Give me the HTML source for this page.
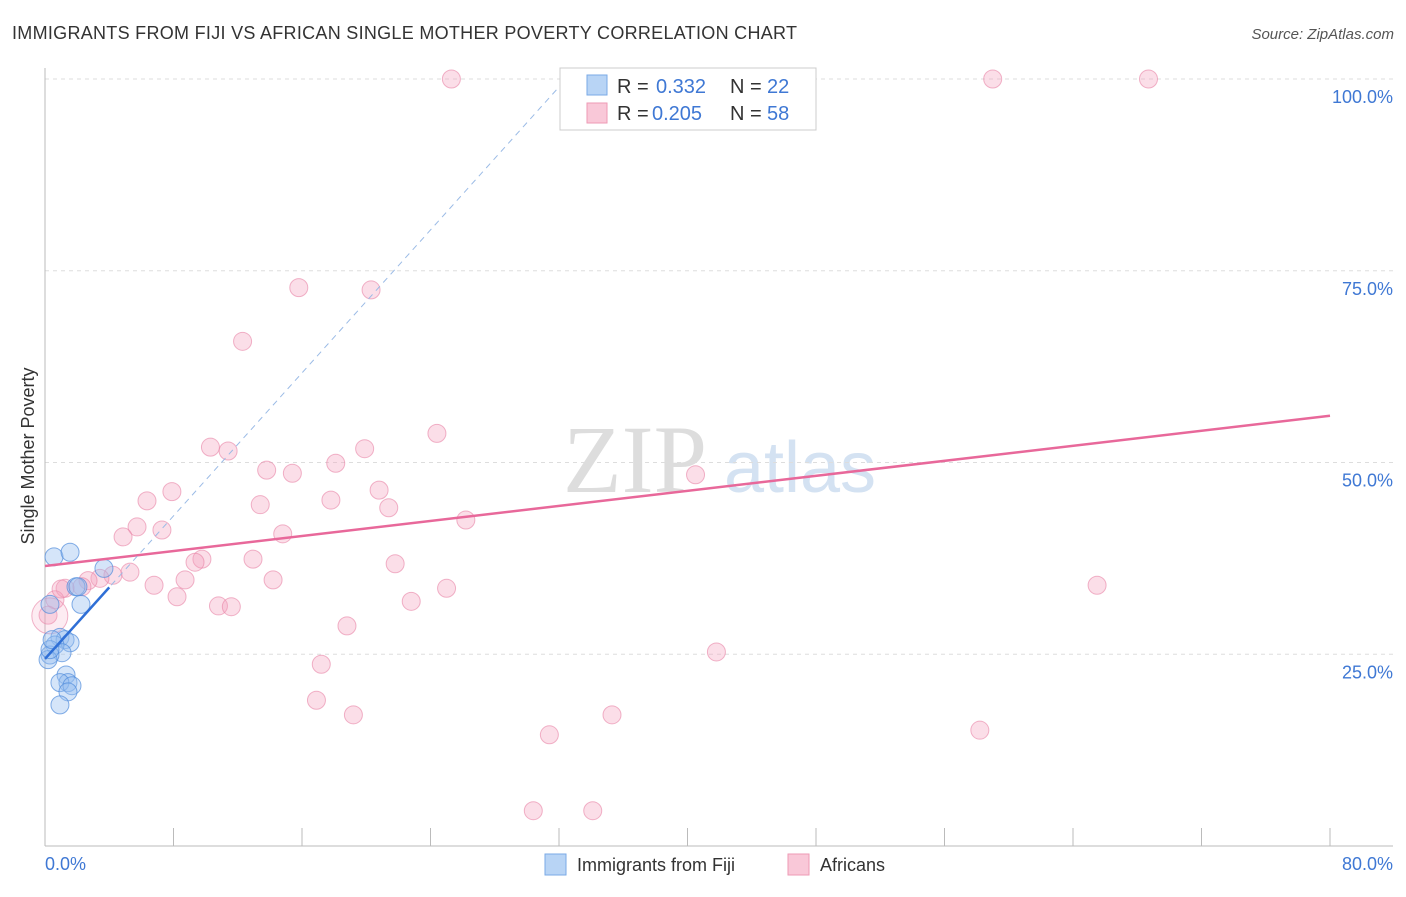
<!DOCTYPE html>
<html><head><meta charset="utf-8"><style>
body{margin:0;background:#fff;font-family:"Liberation Sans",sans-serif}
</style></head><body>
<svg width="1406" height="892" xmlns="http://www.w3.org/2000/svg" id="chart">
<text x="12" y="39" font-size="18" fill="#333" textLength="785">IMMIGRANTS FROM FIJI VS AFRICAN SINGLE MOTHER POVERTY CORRELATION CHART</text>
<text x="1394" y="39" font-size="15" fill="#555" font-style="italic" text-anchor="end">Source: ZipAtlas.com</text>
<text x="635" y="492" font-size="96" fill="#ddd" font-family="Liberation Serif" text-anchor="middle">ZIP</text>
<text x="800" y="492" font-size="72" fill="#d4e2f2" text-anchor="middle">atlas</text>
<text transform="translate(34,456) rotate(-90)" font-size="18" fill="#333" text-anchor="middle">Single Mother Poverty</text>
<g id="grid"></g><g id="marks"></g>
<g>
<rect x="560" y="68" width="256" height="62" fill="#fff" stroke="#ccc"/>
<rect x="587" y="75" width="20" height="20" fill="#b8d4f5" stroke="#7aaae6"/>
<rect x="587" y="103" width="20" height="20" fill="#f9c8d8" stroke="#ee9ab5"/>
<text x="617" y="93" font-size="20" fill="#333">R =</text><text x="656" y="93" font-size="20" fill="#3f78d4">0.332</text>
<text x="730" y="93" font-size="20" fill="#333">N =</text><text x="767" y="93" font-size="20" fill="#3f78d4">22</text>
<text x="617" y="120" font-size="20" fill="#333">R =</text><text x="652" y="120" font-size="20" fill="#3f78d4">0.205</text>
<text x="730" y="120" font-size="20" fill="#333">N =</text><text x="767" y="120" font-size="20" fill="#3f78d4">58</text>
</g>
<g>
<rect x="545" y="854" width="21" height="21" fill="#b8d4f5" stroke="#7aaae6"/>
<text x="577" y="871" font-size="18" fill="#333">Immigrants from Fiji</text>
<rect x="788" y="854" width="21" height="21" fill="#f9c8d8" stroke="#ee9ab5"/>
<text x="820" y="871" font-size="18" fill="#333">Africans</text>
</g>
</svg>
<script>
const blueX=[0.56,1.56,3.67,2.24,1.93,0.31,0.93,1.25,1.56,0.62,1.06,0.31,0.19,1.31,1.43,0.93,1.68,1.43,0.93,0.31,0.44,2.05];
const blueY=[37.7,38.3,36.2,31.5,33.8,31.5,27.2,26.9,26.5,26.2,25.2,24.9,24.3,22.3,21.3,21.3,20.9,20.1,18.4,25.6,26.9,33.8];
const pinkX=[25.3,59.0,68.7,15.8,20.3,12.3,24.4,10.3,11.4,19.9,18.1,13.8,15.4,40.5,6.35,7.9,20.8,17.8,13.4,21.4,26.2,5.73,7.28,4.86,14.8,9.77,12.95,9.34,5.29,4.23,21.8,3.42,2.68,14.2,8.72,6.79,1.25,2.30,25.0,65.5,8.22,10.8,11.6,22.8,0.62,0.19,18.8,17.2,41.8,16.9,19.2,35.3,31.4,58.2,30.4,34.1,0.3,1.0];
const pinkY=[100,100,100,72.8,72.5,65.8,53.8,52.0,51.5,51.8,49.9,49.0,48.6,48.4,45.0,46.2,46.4,45.1,44.5,44.1,42.5,41.6,41.2,40.3,40.7,37.4,37.4,37.0,35.7,35.3,36.8,34.9,34.6,34.7,34.7,34.0,33.6,33.8,33.6,34.0,32.5,31.3,31.2,31.9,32.1,30.1,28.7,23.7,25.3,19.0,17.1,17.1,14.5,15.1,4.6,4.6,30.0,33.5];
const pinkBig=[0,0,0,0,0,0,0,0,0,0,0,0,0,0,0,0,0,0,0,0,0,0,0,0,0,0,0,0,0,0,0,0,0,0,0,0,0,0,0,0,0,0,0,0,0,0,0,0,0,0,0,0,0,0,0,0,1,0];
const yTicks=[25,50,75,100];
const blueTrend=[24.4,2.33];
const pinkTrend=[36.5,56.1];
const NS="http://www.w3.org/2000/svg";
const X=v=>45+v/80*1285, Y=v=>846-v*7.67;
function mk(p,t,a){const e=document.createElementNS(NS,t);for(const k in a)e.setAttribute(k,a[k]);p.appendChild(e);return e;}
const g=document.getElementById('grid'), m=document.getElementById('marks');
yTicks.forEach(t=>{
 const l=mk(g,'line',{x1:45,x2:1393,y1:Y(t),y2:Y(t),stroke:'#ddd','stroke-dasharray':'4,4'});
 
 
 const tx=mk(g,'text',{x:1393,y:Y(t)+24,'font-size':18,fill:'#3f78d4','text-anchor':'end'});tx.textContent=t.toFixed(1)+'%';
 
 
});
mk(g,'line',{x1:45,x2:45,y1:68,y2:846,stroke:'#bbb'});
mk(g,'line',{x1:45,x2:1393,y1:846,y2:846,stroke:'#bbb'});
for(let i=0;i<=10;i++){const x=X(i*8);const l=mk(g,'line',{x1:x,x2:x,y1:828,y2:846,stroke:'#bbb'});
 
 }
const x0=mk(g,'text',{x:45,y:870,'font-size':18,fill:'#3f78d4'});x0.textContent='0.0%';


const x1=mk(g,'text',{x:1393,y:870,'font-size':18,fill:'#3f78d4','text-anchor':'end'});x1.textContent='80.0%';


pinkX.forEach((v,i)=>{const c=mk(m,'circle',{cx:X(v),cy:Y(pinkY[i]),r:pinkBig[i]?18:9,fill:pinkBig[i]?'rgba(244,160,188,0.2)':'rgba(244,160,188,0.35)',stroke:'rgba(232,130,165,0.6)'});
 
 });
blueX.forEach((v,i)=>{const c=mk(m,'circle',{cx:X(v),cy:Y(blueY[i]),r:9,fill:'rgba(150,190,240,0.4)',stroke:'rgba(80,140,220,0.7)'});
 
 });
const pl=mk(m,'line',{x1:X(0),y1:Y(pinkTrend[0]),x2:X(80),y2:Y(pinkTrend[1]),stroke:'#e8689a','stroke-width':2.5});


const xe=(100-blueTrend[0])/blueTrend[1];
const bd=mk(m,'line',{x1:X(0),y1:Y(blueTrend[0]),x2:X(xe),y2:Y(100),stroke:'#9bbbe6','stroke-width':1,'stroke-dasharray':'6,5'});


const bl=mk(m,'line',{x1:X(0),y1:Y(blueTrend[0]),x2:X(4),y2:Y(blueTrend[0]+4*blueTrend[1]),stroke:'#2f6fd6','stroke-width':2.5});


</script>
</body></html>
